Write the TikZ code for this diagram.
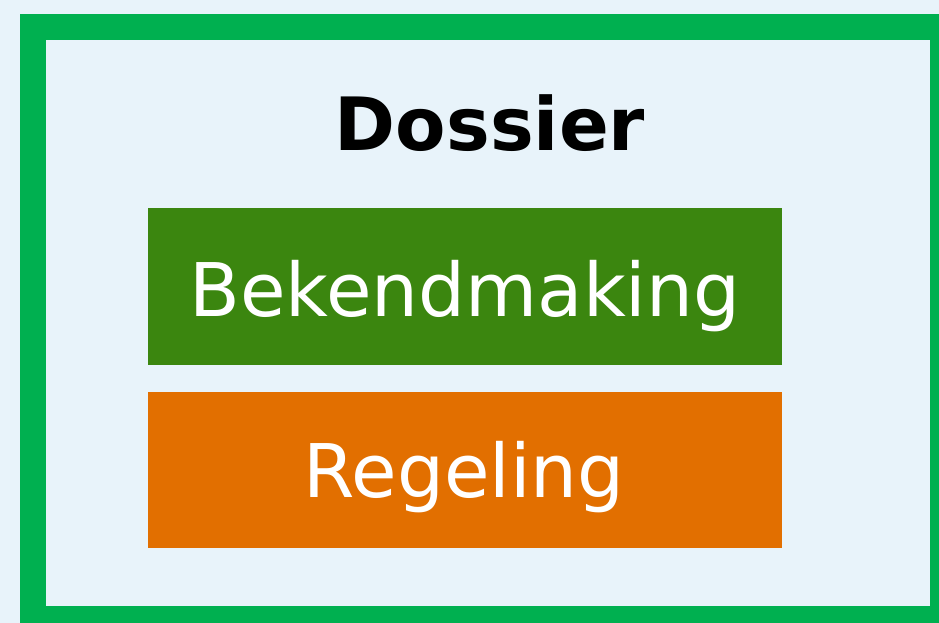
\documentclass[tikz,border=0pt]{standalone}
\usepackage{fontspec}
\setmainfont{DejaVu Sans}
\definecolor{bgblue}{HTML}{E8F3FA}
\definecolor{framegreen}{HTML}{00B050}
\definecolor{boxgreen}{HTML}{3B860F}
\definecolor{boxorange}{HTML}{E26F00}
\tikzset{
  docbox/.style={draw=none, minimum width=634pt, minimum height=157pt, inner sep=0pt, anchor=north west},
  boxtext/.style={text=white, font=\fontsize{74pt}{80pt}\selectfont, anchor=base, inner sep=0pt},
}
\begin{document}
\begin{tikzpicture}[x=1pt,y=-1pt]
\useasboundingbox (0,0) rectangle (939,623);
\fill[bgblue] (0,0) rectangle (939,623);
\draw[framegreen, line width=26pt] (33,27) rectangle (943,619);
\node[docbox, fill=boxgreen] (bek) at (148,208) {};
\node[docbox, fill=boxorange, minimum height=156pt] (reg) at (148,392) {};
\node[font=\bfseries\fontsize{73.5pt}{80pt}\selectfont, anchor=base, inner sep=0pt] (dos) at (490,150) {Dossier};
\node[boxtext] (bekt) at (465,316) {Bekendmaking};
\node[boxtext] (regt) at (464,497) {Regeling};
\end{tikzpicture}
\end{document}
